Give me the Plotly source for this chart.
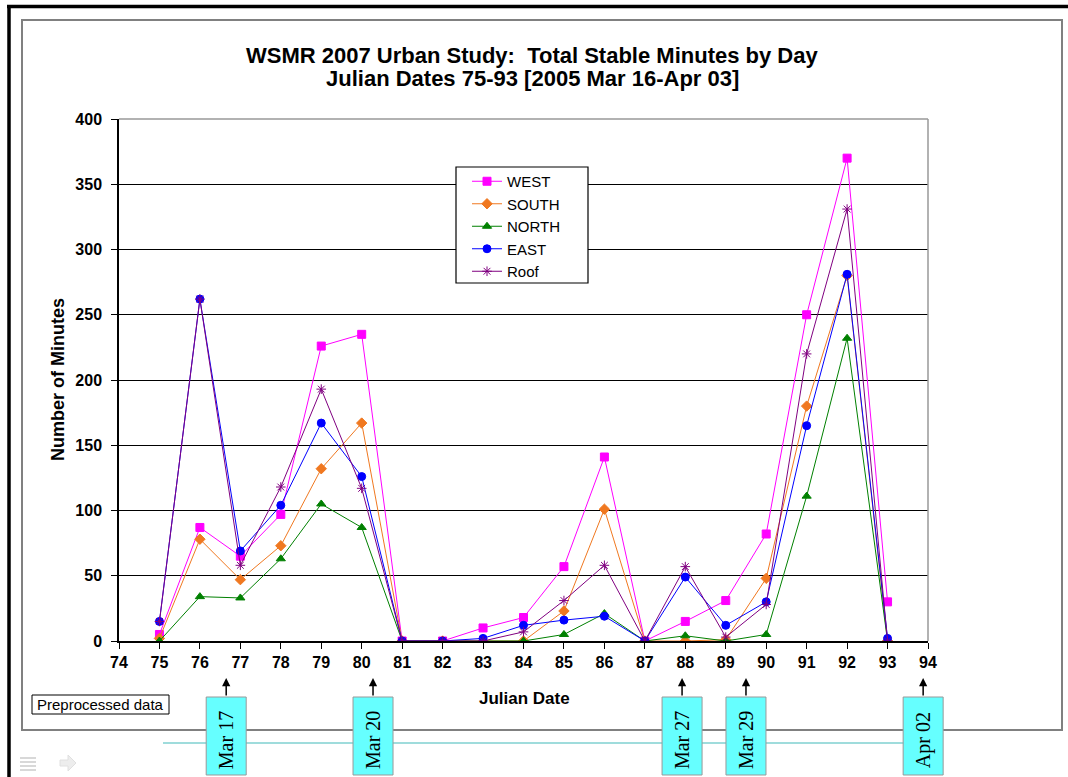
import plotly.graph_objects as go

days = list(range(75, 94))
west  = [5, 87, 65, 97, 226, 235, 0, 0, 10, 18, 57, 141, 0, 15, 31, 82, 250, 370, 30]
south = [2, 78, 47, 73, 132, 167, 0, 0, 0, 0, 23, 101, 0, 0, 1, 48, 180, 280, 0]
north = [0, 34, 33, 63, 105, 87, 0, 0, 0, 0, 5, 21, 0, 4, 0, 5, 111, 232, 0]
east  = [15, 262, 69, 104, 167, 126, 0, 0, 2, 12, 16, 19, 0, 49, 12, 30, 165, 281, 2]
roof  = [15, 262, 58, 118, 193, 117, 0, 0, 0, 7, 31, 58, 0, 57, 3, 28, 220, 331, 0]

series = [
    ("WEST", west, "#FF00FF", "square", 8),
    ("SOUTH", south, "#F07820", "diamond", 8),
    ("NORTH", north, "#008000", "triangle-up", 8),
    ("EAST", east, "#0000FF", "circle", 8),
    ("Roof", roof, "#800080", "asterisk-open", 8),
]

title_lines = ["WSMR 2007 Urban Study:\u00a0 Total Stable Minutes by Day",
               "Julian Dates 75-93 [2005 Mar 16-Apr 03]"]
date_labels = ["Mar 17", "Mar 20", "Mar 27", "Mar 29", "Apr 02"]
date_pos = [76.65, 80.28, 87.92, 89.5, 93.88]

W, H = 1068, 777
L, R, T, B = 119, 928, 119, 641

def px(x):
    return (x - L) / (R - L)

def py(y):
    return (B - y) / (B - T)

fig = go.Figure()
for name, vals, col, sym, sz in series:
    fig.add_trace(go.Scatter(
        x=days, y=vals, name=name, mode="lines+markers",
        line=dict(color=col, width=1),
        marker=dict(color=col, symbol=sym, size=sz, line=dict(color=col, width=1)),
    ))

font = "Liberation Sans, Arial, sans-serif"
narrow = "Liberation Sans Narrow, Arial Narrow, Liberation Sans, sans-serif"
serif = "Liberation Serif, Times New Roman, serif"
shapes = []
annotations = []

# outer black frame
shapes.append(dict(type="line", xref="paper", yref="paper", x0=px(9), x1=px(9), y0=py(5), y1=py(780),
                   line=dict(color="black", width=3.5)))
shapes.append(dict(type="line", xref="paper", yref="paper", x0=px(7), x1=px(1070), y0=py(6.5), y1=py(6.5),
                   line=dict(color="black", width=3.5)))
# inner gray chart border
shapes.append(dict(type="rect", xref="paper", yref="paper", x0=px(22), x1=px(1062), y0=py(730), y1=py(20),
                   line=dict(color="#808080", width=2)))
# plot area top/right gray border
shapes.append(dict(type="line", xref="paper", yref="paper", x0=0, x1=1, y0=1, y1=1,
                   line=dict(color="#999999", width=1.5)))
shapes.append(dict(type="line", xref="paper", yref="paper", x0=1, x1=1, y0=0, y1=1,
                   line=dict(color="#999999", width=1.5)))
# legend frame
shapes.append(dict(type="rect", xref="paper", yref="paper", x0=px(456), x1=px(588), y0=py(283), y1=py(167),
                   line=dict(color="black", width=1.2), fillcolor="white", layer="above"))
# cyan timeline
shapes.append(dict(type="line", xref="paper", yref="paper", x0=px(163), x1=px(904), y0=py(743), y1=py(743),
                   line=dict(color="#7FD0D0", width=1.5), layer="below"))
# Preprocessed data box
shapes.append(dict(type="rect", xref="paper", yref="paper", x0=px(32), x1=px(169), y0=py(714), y1=py(695),
                   line=dict(color="black", width=1), fillcolor="white"))
annotations.append(dict(xref="paper", yref="paper", x=px(100.5), y=py(704.5), text="Preprocessed data",
                        showarrow=False, font=dict(family=font, size=15, color="black"),
                        xanchor="center", yanchor="middle"))

# faint slide icons
for yy in (758, 762, 766, 770):
    shapes.append(dict(type="line", xref="paper", yref="paper", x0=px(20), x1=px(36), y0=py(yy), y1=py(yy),
                       line=dict(color="#D8D8D8", width=2)))
shapes.append(dict(type="path", xref="paper", yref="paper",
                   path=f"M {px(60)},{py(760)} L {px(68)},{py(760)} L {px(68)},{py(755)} L {px(76)},{py(763)} "
                        f"L {px(68)},{py(771)} L {px(68)},{py(766)} L {px(60)},{py(766)} Z",
                   line=dict(color="#E0E0E0", width=1), fillcolor="#EDEDED"))

# date boxes with arrows
box_w = 40
for lab, pos in zip(date_labels, date_pos):
    cx = L + (pos - 74) * (R - L) / 20.0
    shapes.append(dict(type="rect", xref="paper", yref="paper", x0=px(cx - box_w / 2), x1=px(cx + box_w / 2),
                       y0=py(775), y1=py(697), line=dict(color="#999999", width=1), fillcolor="#66FFFF"))
    annotations.append(dict(xref="paper", yref="paper", x=px(cx), y=py(740), text=lab, textangle=-90,
                            showarrow=False, font=dict(family=serif, size=20, color="black"),
                            xanchor="center", yanchor="middle"))
    annotations.append(dict(xref="paper", yref="paper", x=px(cx), y=py(678), text="", showarrow=True,
                            axref="pixel", ayref="pixel", ax=0, ay=19, arrowhead=2, arrowsize=1.1,
                            arrowwidth=1.5, arrowcolor="black"))

# titles
for line_text, yy in zip(title_lines, (55, 78)):
    annotations.append(dict(xref="paper", yref="paper", x=px(532), y=py(yy),
                            text=f"<b>{line_text}</b>",
                            showarrow=False, font=dict(family=font, size=22, color="black"),
                            xanchor="center", yanchor="middle"))
annotations.append(dict(xref="paper", yref="paper", x=px(58), y=py(380), text="<b>Number of Minutes</b>",
                        textangle=-90, showarrow=False, font=dict(family=font, size=18, color="black"),
                        xanchor="center", yanchor="middle"))
annotations.append(dict(xref="paper", yref="paper", x=px(524), y=py(698), text="<b>Julian Date</b>",
                        showarrow=False, font=dict(family=font, size=17, color="black"),
                        xanchor="center", yanchor="middle"))

fig.update_layout(
    width=W, height=H,
    margin=dict(l=L, r=W - R, t=T, b=H - B, pad=0),
    paper_bgcolor="white", plot_bgcolor="white",
    showlegend=True,
    legend=dict(x=px(467), y=py(165), xanchor="left", yanchor="top",
                borderwidth=0, bgcolor="rgba(0,0,0,0)",
                font=dict(family=font, size=15, color="black"),
                tracegroupgap=0, itemwidth=30),
    shapes=shapes, annotations=annotations,
    font=dict(family=font),
)
fig.update_xaxes(range=[74, 94], dtick=1, tick0=74, showgrid=False, zeroline=False,
                 showline=True, linecolor="black", linewidth=1.5,
                 ticks="outside", ticklen=6, tickcolor="black", tickwidth=1,
                 tickfont=dict(family=narrow, size=16, color="black", weight="bold"))
fig.update_yaxes(range=[0, 400], dtick=50, showgrid=True, gridcolor="black", gridwidth=1.2,
                 zeroline=False, showline=True, linecolor="black", linewidth=1.5,
                 ticks="outside", ticklen=6, tickcolor="black", tickwidth=1,
                 tickfont=dict(family=font, size=16, color="black", weight="bold"),
                 ticklabelstandoff=6)

fig.write_html("out.html", config={"displayModeBar": False},
               post_script="document.body.style.margin='0';document.body.style.overflow='hidden';")
